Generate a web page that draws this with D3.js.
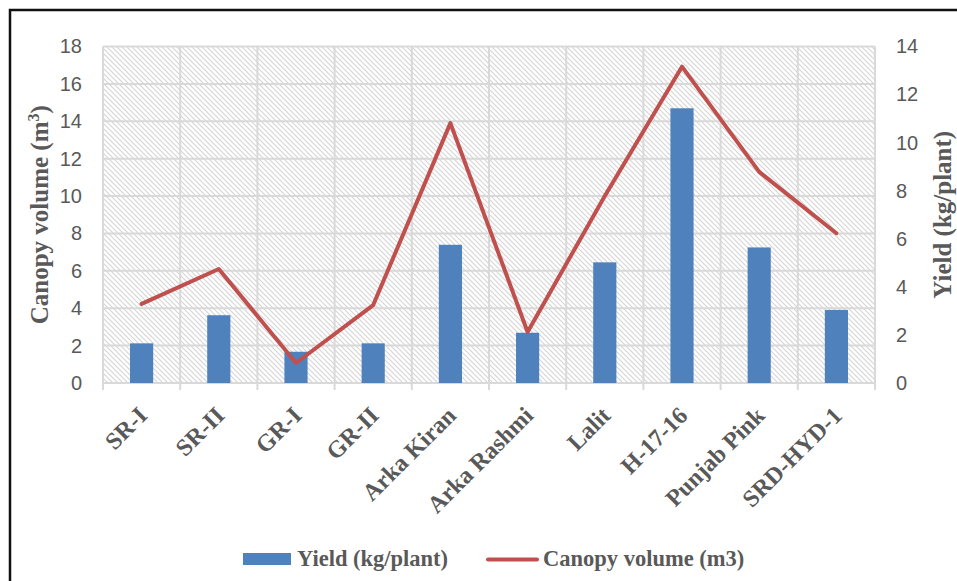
<!DOCTYPE html>
<html>
<head>
<meta charset="utf-8">
<script src="https://cdn.jsdelivr.net/npm/d3@7"></script>
<style>
  html, body { margin: 0; padding: 0; background: #fff; }
  svg { display: block; }
</style>
</head>
<body>
<div id="chart"></div>
<script>
// values
const categories = ['SR-I', 'SR-II', 'GR-I', 'GR-II', 'Arka Kiran', 'Arka Rashmi', 'Lalit', 'H-17-16', 'Punjab Pink', 'SRD-HYD-1'];
const yieldKg = [1.65, 2.82, 1.30, 1.65, 5.75, 2.09, 5.02, 11.43, 5.64, 3.04];
const canopyM3 = [4.23, 6.10, 1.07, 4.17, 13.90, 2.73, 10.0, 16.92, 11.29, 8.01];
const leftTicks = [0, 2, 4, 6, 8, 10, 12, 14, 16, 18];
const rightTicks = [0, 2, 4, 6, 8, 10, 12, 14];
const seriesNames = ['Yield (kg/plant)', 'Canopy volume (m3)'];

const width = 957, height = 581;
const plot = { left: 103, right: 875, top: 46.5, bottom: 383 };
const tickColor = '#595959';
const gridColor = '#d9d9d9';
const barColor = '#4f81bd';
const lineColor = '#c0504d';

const svg = d3.select('#chart').append('svg')
	.attr('width', width)
	.attr('height', height);

// hatch fill of the plot area
const defs = svg.append('defs');
const pat = defs.append('pattern')
	.attr('id', 'hatch')
	.attr('patternUnits', 'userSpaceOnUse')
	.attr('width', 5)
	.attr('height', 5);
pat.append('rect').attr('width', 5).attr('height', 5).attr('fill', '#fff');
pat.append('path')
	.attr('d', 'M0,0 L5,5 M-2.5,2.5 L2.5,7.5 M2.5,-2.5 L7.5,2.5')
	.attr('stroke', '#d6d6d6')
	.attr('stroke-width', 1.2);

const xScale = d3.scaleBand().domain(categories).range([plot.left, plot.right]);
const yLeft = d3.scaleLinear().domain([0, 18]).range([plot.bottom, plot.top]);
const yRight = d3.scaleLinear().domain([0, 14]).range([plot.bottom, plot.top]);

svg.append('rect')
	.attr('x', plot.left)
	.attr('y', plot.top)
	.attr('width', plot.right - plot.left)
	.attr('height', plot.bottom - plot.top)
	.attr('fill', 'url(#hatch)');

// grid
const grid = svg.append('g').attr('class', 'grid');
grid.selectAll('.hgrid')
	.data(leftTicks)
	.enter().append('line')
	.attr('class', 'hgrid')
	.attr('x1', plot.left).attr('x2', plot.right)
	.attr('y1', d => yLeft(d)).attr('y2', d => yLeft(d))
	.attr('stroke', gridColor)
	.attr('stroke-width', 2);

const bounds = categories.map(c => xScale(c)).concat([plot.right]);
grid.selectAll('.vgrid')
	.data(bounds)
	.enter().append('line')
	.attr('class', 'vgrid')
	.attr('x1', d => d).attr('x2', d => d)
	.attr('y1', plot.top).attr('y2', plot.bottom + 7)
	.attr('stroke', gridColor)
	.attr('stroke-width', 2);

// left axis
const leftAxis = d3.axisLeft(yLeft).tickValues(leftTicks).tickSize(0).tickPadding(21);
const gl = svg.append('g')
	.attr('transform', 'translate(' + plot.left + ',0)')
	.call(leftAxis);
gl.select('.domain').remove();
gl.selectAll('text')
	.attr('fill', tickColor)
	.style('font-family', 'Liberation Sans, Arial, sans-serif')
	.style('font-size', '20px');

// right axis
const rightAxis = d3.axisRight(yRight).tickValues(rightTicks).tickSize(0).tickPadding(21);
const gr = svg.append('g')
	.attr('transform', 'translate(' + plot.right + ',0)')
	.call(rightAxis);
gr.select('.domain').remove();
gr.selectAll('text')
	.attr('fill', tickColor)
	.style('font-family', 'Liberation Sans, Arial, sans-serif')
	.style('font-size', '20px');

// bars
const barW = xScale.bandwidth() * 0.3;
svg.append('g').selectAll('.bar')
	.data(categories)
	.enter().append('rect')
	.attr('class', 'bar')
	.attr('x', d => xScale(d) + (xScale.bandwidth() - barW) / 2)
	.attr('width', barW)
	.attr('y', (d, i) => yRight(yieldKg[i]))
	.attr('height', (d, i) => plot.bottom - yRight(yieldKg[i]))
	.attr('fill', barColor);

// line
const line = d3.line()
	.x(d => xScale(d[0]) + xScale.bandwidth() / 2)
	.y(d => yLeft(d[1]));
svg.append('path')
	.datum(categories.map((c, i) => [c, canopyM3[i]]))
	.attr('d', line)
	.attr('fill', 'none')
	.attr('stroke', lineColor)
	.attr('stroke-width', 4)
	.attr('stroke-linejoin', 'round')
	.attr('stroke-linecap', 'round');

// category labels
const serif = 'Liberation Serif, Times New Roman, serif';
svg.append('g').selectAll('.cat')
	.data(categories)
	.enter().append('text')
	.attr('class', 'cat')
	.attr('transform', d => 'translate(' + (xScale(d) + xScale.bandwidth() / 2 + 7) + ',417) rotate(-45)')
	.attr('text-anchor', 'end')
	.attr('fill', tickColor)
	.style('font-family', serif)
	.style('font-weight', 'bold')
	.style('font-size', '24px')
	.text(d => d);

// axis titles
const lt = svg.append('text')
	.attr('transform', 'translate(48,' + ((plot.top + plot.bottom) / 2) + ') rotate(-90)')
	.attr('text-anchor', 'middle')
	.attr('fill', tickColor)
	.style('font-family', serif)
	.style('font-weight', 'bold')
	.style('font-size', '25px');
lt.append('tspan').text('Canopy volume (m');
lt.append('tspan').attr('dy', -9).style('font-size', '16px').text('3');
lt.append('tspan').attr('dy', 9).text(')');

svg.append('text')
	.attr('transform', 'translate(951,' + ((plot.top + plot.bottom) / 2) + ') rotate(-90)')
	.attr('text-anchor', 'middle')
	.attr('fill', tickColor)
	.style('font-family', serif)
	.style('font-weight', 'bold')
	.style('font-size', '25px')
	.text('Yield (kg/plant)');

// legend
const legend = svg.append('g').attr('class', 'legend');
legend.append('rect')
	.attr('x', 243).attr('y', 553)
	.attr('width', 48).attr('height', 12)
	.attr('fill', barColor);
legend.append('text')
	.attr('x', 297).attr('y', 566)
	.attr('fill', tickColor)
	.style('font-family', serif)
	.style('font-weight', 'bold')
	.style('font-size', '22.5px')
	.text(seriesNames[0]);
legend.append('line')
	.attr('x1', 488).attr('x2', 537)
	.attr('y1', 559.5).attr('y2', 559.5)
	.attr('stroke', lineColor)
	.attr('stroke-width', 4)
	.attr('stroke-linecap', 'round');
legend.append('text')
	.attr('x', 543).attr('y', 566)
	.attr('fill', tickColor)
	.style('font-family', serif)
	.style('font-weight', 'bold')
	.style('font-size', '22.5px')
	.text(seriesNames[1]);

// chart border
svg.append('rect')
	.attr('x', 10).attr('y', 10)
	.attr('width', 1000).attr('height', 1000)
	.attr('fill', 'none')
	.attr('stroke', '#111')
	.attr('stroke-width', 2.5);
</script>
</body>
</html>
